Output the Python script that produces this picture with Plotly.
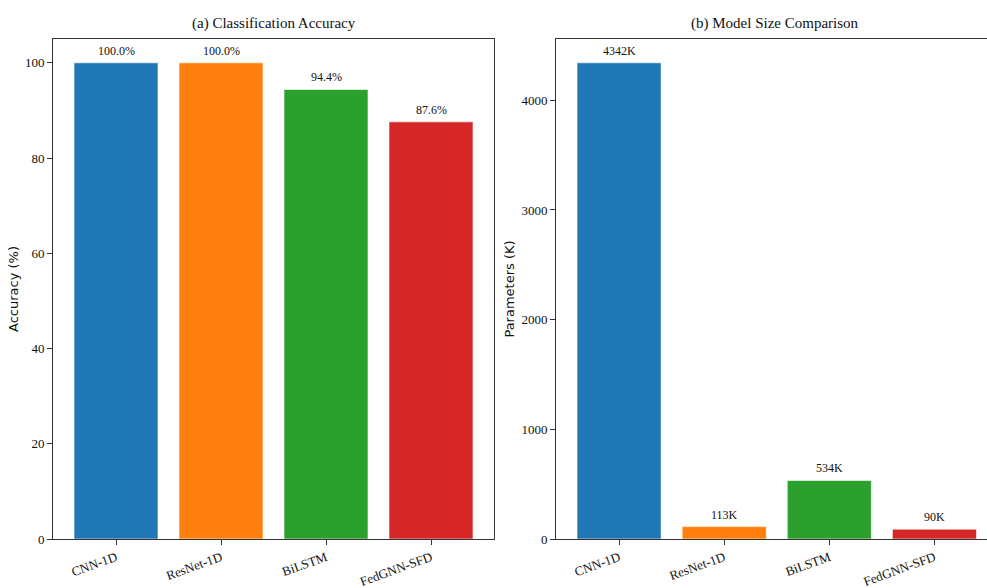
import plotly.graph_objects as go
from plotly.subplots import make_subplots

# Model comparison data
models = ["CNN-1D", "ResNet-1D", "BiLSTM", "FedGNN-SFD"]
accuracy = [100.0, 100.0, 94.4, 87.6]
params_k = [4342, 113, 534, 90]
colors = ["#1f77b4", "#ff7f0e", "#2ca02c", "#d62728"]
acc_ticks = [0, 20, 40, 60, 80, 100]
param_ticks = [0, 1000, 2000, 3000, 4000]

W, H = 987, 588
serif = "Liberation Serif, Times New Roman, serif"
sans = "DejaVu Sans, sans-serif"

fig = make_subplots(rows=1, cols=2, horizontal_spacing=0.05)

fig.add_trace(go.Bar(x=list(range(len(models))), y=accuracy, width=0.8,
                     marker=dict(color=colors, line=dict(color="rgba(255,255,255,0.6)", width=1)),
                     showlegend=False), row=1, col=1)
fig.add_trace(go.Bar(x=list(range(len(models))), y=params_k, width=0.8,
                     marker=dict(color=colors, line=dict(color="rgba(255,255,255,0.6)", width=1)),
                     showlegend=False), row=1, col=2)

annotations = []
for i, v in enumerate(accuracy):
    annotations.append(dict(x=i, y=v, xref="x", yref="y", text=f"{v:.1f}%",
                            showarrow=False, yanchor="bottom", yshift=3,
                            font=dict(family=serif, size=12, color="#111")))
for i, v in enumerate(params_k):
    annotations.append(dict(x=i, y=v, xref="x2", yref="y2", text=f"{v}K",
                            showarrow=False, yanchor="bottom", yshift=3,
                            font=dict(family=serif, size=12, color="#111")))

# Panel titles
annotations.append(dict(x=274 / W, y=1, xref="paper", yref="paper", xanchor="center",
                        text="(a) Classification Accuracy", showarrow=False,
                        yanchor="bottom", yshift=5, font=dict(family=serif, size=15, color="#111")))
annotations.append(dict(x=775 / W, y=1, xref="paper", yref="paper", xanchor="center",
                        text="(b) Model Size Comparison", showarrow=False,
                        yanchor="bottom", yshift=5, font=dict(family=serif, size=15, color="#111")))

axis_common = dict(showline=True, linecolor="#333", linewidth=1, ticks="outside",
                   ticklen=5, tickcolor="#333", showgrid=False, zeroline=False,
                   tickfont=dict(family=serif, size=13, color="#111"))

fig.update_layout(
    width=W, height=H,
    margin=dict(l=0, r=0, t=39, b=49),
    plot_bgcolor="white", paper_bgcolor="white",
    bargap=0.2,
    annotations=annotations,
    xaxis=dict(domain=[53 / W, 494 / W], range=[-0.6, 3.6], mirror=True,
               tickvals=list(range(len(models))), ticktext=models, tickangle=-20,
               **axis_common),
    yaxis=dict(range=[0, 105], mirror=True, tickvals=acc_ticks,
               title=dict(text="Accuracy (%)", font=dict(family=sans, size=13, color="#111"), standoff=3),
               **axis_common),
    xaxis2=dict(domain=[556 / W, 1.0], range=[-0.6, 3.5], mirror=True,
                tickvals=list(range(len(models))), ticktext=models, tickangle=-20,
                **axis_common),
    yaxis2=dict(range=[0, max(params_k) * 1.05], mirror=False, tickvals=param_ticks,
                title=dict(text="Parameters (K)", font=dict(family=sans, size=13, color="#111"), standoff=3),
                **axis_common),
)

fig.write_html("out.html")
